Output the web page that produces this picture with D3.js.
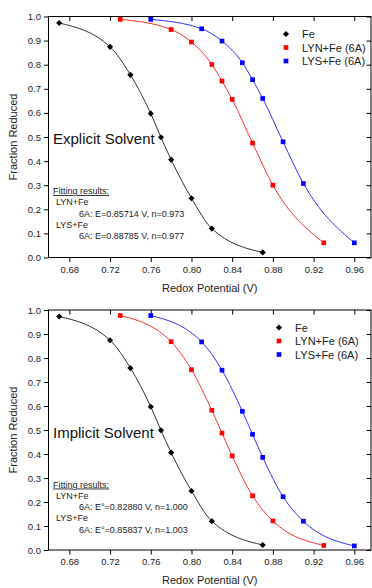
<!DOCTYPE html>
<html>
<head>
<meta charset="utf-8">
<script src="https://cdn.jsdelivr.net/npm/d3@7"></script>
<style>
  body { margin: 0; background: #fff; }
  svg { display: block; font-family: Arial, "Liberation Sans", sans-serif; }
</style>
</head>
<body>
<svg id="chart" width="372" height="588"></svg>
<script>
// Redox titration curves, explicit vs implicit solvent

var seriesNames = ["Fe", "LYN+Fe (6A)", "LYS+Fe (6A)"];
var seriesColors = ["#000000", "#ff0000", "#0000ff"];
var lineColors = ["#333333", "#ff3030", "#3030ff"];

var feX = [0.67, 0.72, 0.74, 0.76, 0.77, 0.78, 0.80, 0.82, 0.87];
var feY = [0.973, 0.874, 0.758, 0.597, 0.499, 0.406, 0.246, 0.120, 0.021];

// explicit solvent
var lynExpX = [0.73, 0.78, 0.80, 0.82, 0.83, 0.84, 0.86, 0.88, 0.93];
var lynExpY = [0.988, 0.946, 0.894, 0.801, 0.732, 0.656, 0.475, 0.300, 0.061];
var lysExpX = [0.76, 0.81, 0.83, 0.85, 0.86, 0.87, 0.89, 0.91, 0.96];
var lysExpY = [0.988, 0.949, 0.898, 0.808, 0.738, 0.660, 0.480, 0.307, 0.061];

// implicit solvent
var lynImpX = [0.73, 0.78, 0.80, 0.82, 0.83, 0.84, 0.86, 0.88, 0.93];
var lynImpY = [0.977, 0.868, 0.751, 0.582, 0.487, 0.392, 0.226, 0.121, 0.019];
var lysImpX = [0.76, 0.81, 0.83, 0.85, 0.86, 0.87, 0.89, 0.91, 0.96];
var lysImpY = [0.977, 0.867, 0.749, 0.578, 0.482, 0.386, 0.222, 0.120, 0.017];

var xTicks = [0.68, 0.72, 0.76, 0.80, 0.84, 0.88, 0.92, 0.96];
var yTicks = [0.0, 0.1, 0.2, 0.3, 0.4, 0.5, 0.6, 0.7, 0.8, 0.9, 1.0];

var svg = d3.select('#chart');
var plotLeft = 48.5;
var plotRight = 371;

function zip(xs, ys) {
    return xs.map(function (x, i) { return [x, ys[i]]; });
}

// diamond = square turned 45 degrees, square stays upright
function marker(sel, i, px, py) {
    var rot = i === 0 ? ' rotate(45)' : '';
    var size = i === 0 ? 19 : 22;
    sel.attr('transform', 'translate(' + px + ',' + py + ')' + rot)
        .attr('d', d3.symbol().type(d3.symbolSquare).size(size))
        .attr('fill', seriesColors[i]);
}

function drawPanel(top, bottom, title, fitLines, lynX, lynY, lysX, lysY) {
    var x = d3.scaleLinear().domain([0.66, 0.9764]).range([49, plotRight]);
    var y = d3.scaleLinear().domain([0, 1]).range([bottom, top]);
    var g = svg.append('g');

    var minorX = d3.range(0.66, 0.975, 0.02);
    var minorY = d3.range(0, 1.001, 0.05);

    // frame
    g.append('rect')
        .attr('x', plotLeft).attr('y', top)
        .attr('width', plotRight - plotLeft).attr('height', bottom - top)
        .attr('fill', 'none').attr('stroke', '#000').attr('stroke-width', 1);

    // bottom axis
    var bottomAxis = g.append('g').attr('transform', 'translate(0,' + bottom + ')');
    bottomAxis.call(d3.axisBottom(x).tickValues(minorX).tickSize(2.5).tickFormat(''));
    bottomAxis.call(d3.axisBottom(x).tickValues(xTicks).tickSize(4.5).tickPadding(4)
        .tickFormat(d3.format('.2f')));
    bottomAxis.select('.domain').remove();
    bottomAxis.selectAll('text').attr('font-size', 9.5).attr('fill', '#222')
        .attr('font-family', 'Arial, "Liberation Sans", sans-serif');

    // top axis, ticks inward
    var topAxis = g.append('g').attr('transform', 'translate(0,' + top + ')');
    topAxis.call(d3.axisTop(x).tickValues(minorX).tickSize(-2.5).tickFormat(''));
    topAxis.call(d3.axisTop(x).tickValues(xTicks).tickSize(-4.5).tickFormat(''));
    topAxis.select('.domain').remove();

    // left axis
    var leftAxis = g.append('g').attr('transform', 'translate(' + plotLeft + ',0)');
    leftAxis.call(d3.axisLeft(y).tickValues(minorY).tickSize(2.5).tickFormat(''));
    leftAxis.call(d3.axisLeft(y).tickValues(yTicks).tickSize(4.5).tickPadding(3)
        .tickFormat(d3.format('.1f')));
    leftAxis.select('.domain').remove();
    leftAxis.selectAll('text').attr('font-size', 9.5).attr('fill', '#222')
        .attr('font-family', 'Arial, "Liberation Sans", sans-serif');

    // right axis, ticks inward
    var rightAxis = g.append('g').attr('transform', 'translate(' + plotRight + ',0)');
    rightAxis.call(d3.axisRight(y).tickValues(minorY).tickSize(-2.5).tickFormat(''));
    rightAxis.call(d3.axisRight(y).tickValues(yTicks).tickSize(-4.5).tickFormat(''));
    rightAxis.select('.domain').remove();

    g.selectAll('.tick line').attr('stroke', '#000').attr('stroke-width', 1);

    // axis titles
    g.append('text')
        .attr('x', (plotLeft + plotRight) / 2)
        .attr('y', bottom + 34)
        .attr('text-anchor', 'middle')
        .attr('font-size', 11).attr('fill', '#222')
        .text('Redox Potential (V)');
    g.append('text')
        .attr('transform', 'translate(17,' + ((top + bottom) / 2) + ') rotate(-90)')
        .attr('text-anchor', 'middle')
        .attr('font-size', 11).attr('fill', '#222')
        .text('Fraction Reduced');

    // series
    var line = d3.line()
        .x(function (d) { return x(d[0]); })
        .y(function (d) { return y(d[1]); })
        .curve(d3.curveMonotoneX);
    var series = [zip(feX, feY), zip(lynX, lynY), zip(lysX, lysY)];
    series.forEach(function (pts, i) {
        g.append('path')
            .attr('d', line(pts))
            .attr('fill', 'none')
            .attr('stroke', lineColors[i])
            .attr('stroke-width', 1);
    });
    series.forEach(function (pts, i) {
        g.selectAll('path.pt' + i)
            .data(pts)
            .enter()
        .append('path')
            .attr('class', 'pt' + i)
            .each(function (d) {
                marker(d3.select(this), i, x(d[0]), y(d[1]));
            });
    });

    // legend
    var legX = title === 'Explicit Solvent' ? 286 : 279;
    seriesNames.forEach(function (name, i) {
        var ly = top + 17.5 + i * 13.5;
        marker(g.append('path'), i, legX, ly);
        g.append('text')
            .attr('x', legX + 16).attr('y', ly + 4)
            .attr('font-size', 11).attr('fill', '#222')
            .text(name);
    });

    // panel title
    g.append('text')
        .attr('x', 53).attr('y', top + 127.5)
        .attr('font-size', 15).attr('fill', '#111')
        .text(title);

    // fit annotation
    var fy = top + 177.5;
    var fs = 9;
    g.append('text')
        .attr('x', 53).attr('y', fy)
        .attr('font-size', fs).attr('fill', '#222')
        .attr('text-decoration', 'underline')
        .text('Fitting results:');
    g.append('text').attr('x', 56).attr('y', fy + 11.3)
        .attr('font-size', fs).attr('fill', '#222').text('LYN+Fe');
    g.append('text').attr('x', 79).attr('y', fy + 22.5)
        .attr('font-size', fs).attr('fill', '#222').text(fitLines[0]);
    g.append('text').attr('x', 56).attr('y', fy + 33.7)
        .attr('font-size', fs).attr('fill', '#222').text('LYS+Fe');
    g.append('text').attr('x', 79).attr('y', fy + 45)
        .attr('font-size', fs).attr('fill', '#222').text(fitLines[1]);
}

drawPanel(16.5, 257.5, 'Explicit Solvent',
    ['6A: E=0.85714 V, n=0.973', '6A: E=0.88785 V, n=0.977'],
    lynExpX, lynExpY, lysExpX, lysExpY);
drawPanel(310, 550, 'Implicit Solvent',
    ['6A: E\u00b0=0.82880 V, n=1.000', '6A: E\u00b0=0.85837 V, n=1.003'],
    lynImpX, lynImpY, lysImpX, lysImpY);
</script>
</body>
</html>
